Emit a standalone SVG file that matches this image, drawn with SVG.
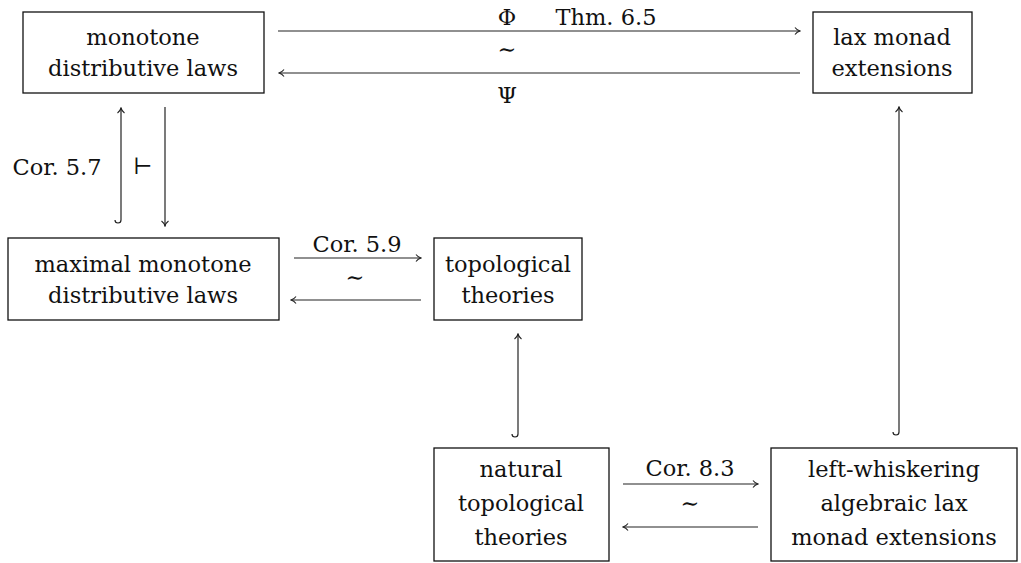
<svg xmlns="http://www.w3.org/2000/svg" width="1021" height="563" viewBox="0 0 1021 563">
<defs>
<style>
.t{font-family:'DejaVu Serif','Liberation Serif',serif;font-size:22.5px;fill:#111;text-anchor:middle}
.box{fill:#fff;stroke:#111;stroke-width:1.3}
.ln{fill:none;stroke:#222;stroke-width:1.2}
</style>
<marker id="ah" viewBox="0 0 10 10" refX="9" refY="5" markerWidth="10" markerHeight="10" markerUnits="userSpaceOnUse" orient="auto">
<path d="M4,1.5 Q6,4.2 9,5 Q6,5.8 4,8.5" fill="none" stroke="#222" stroke-width="1.1"/>
</marker>
</defs>
<rect width="1021" height="563" fill="#fff"/>
<g class="t">
<g id="n1"><rect class="box" x="23" y="12" width="241" height="81"/><text x="143" y="45">monotone</text><text x="143" y="76">distributive laws</text></g>
<g id="n2"><rect class="box" x="813" y="12" width="159" height="81"/><text x="892" y="45">lax monad</text><text x="892" y="76">extensions</text></g>
<g id="n3"><rect class="box" x="8" y="238" width="271" height="82"/><text x="143" y="272">maximal monotone</text><text x="143" y="303">distributive laws</text></g>
<g id="n4"><rect class="box" x="434" y="238" width="148" height="82"/><text x="508" y="272">topological</text><text x="508" y="303">theories</text></g>
<g id="n5"><rect class="box" x="434" y="448" width="175" height="113"/><text x="521" y="477">natural</text><text x="521" y="511">topological</text><text x="521" y="545">theories</text></g>
<g id="n6"><rect class="box" x="771" y="448" width="246" height="113"/><text x="894" y="477">left-whiskering</text><text x="894" y="511">algebraic lax</text><text x="894" y="545">monad extensions</text></g>
<g id="edges">
<line class="ln" x1="278" y1="31" x2="800" y2="31" marker-end="url(#ah)"/>
<line class="ln" x1="800" y1="73" x2="279" y2="73" marker-end="url(#ah)"/>
<text x="507" y="25">Φ</text><text x="606" y="25">Thm. 6.5</text>
<text x="507" y="57">∼</text>
<text x="507" y="103">Ψ</text>
<path class="ln" d="M121,220 V108" marker-end="url(#ah)"/>
<path class="ln" d="M121,220 A3,3 0 0 1 115,220"/>
<line class="ln" x1="165" y1="107" x2="165" y2="226" marker-end="url(#ah)"/>
<text x="57" y="175">Cor. 5.7</text>
<text x="143" y="174">⊢</text>
<line class="ln" x1="294" y1="258" x2="421" y2="258" marker-end="url(#ah)"/>
<line class="ln" x1="421" y1="300" x2="291" y2="300" marker-end="url(#ah)"/>
<text x="357" y="252">Cor. 5.9</text>
<text x="355" y="285">∼</text>
<path class="ln" d="M518,434 V334" marker-end="url(#ah)"/>
<path class="ln" d="M518,434 A3,3 0 0 1 512,434"/>
<path class="ln" d="M899,432 V107" marker-end="url(#ah)"/>
<path class="ln" d="M899,432 A3,3 0 0 1 893,432"/>
<line class="ln" x1="623" y1="484" x2="758" y2="484" marker-end="url(#ah)"/>
<line class="ln" x1="758" y1="527" x2="623" y2="527" marker-end="url(#ah)"/>
<text x="690" y="476">Cor. 8.3</text>
<text x="690" y="511">∼</text>
</g>
</g>
</svg>
